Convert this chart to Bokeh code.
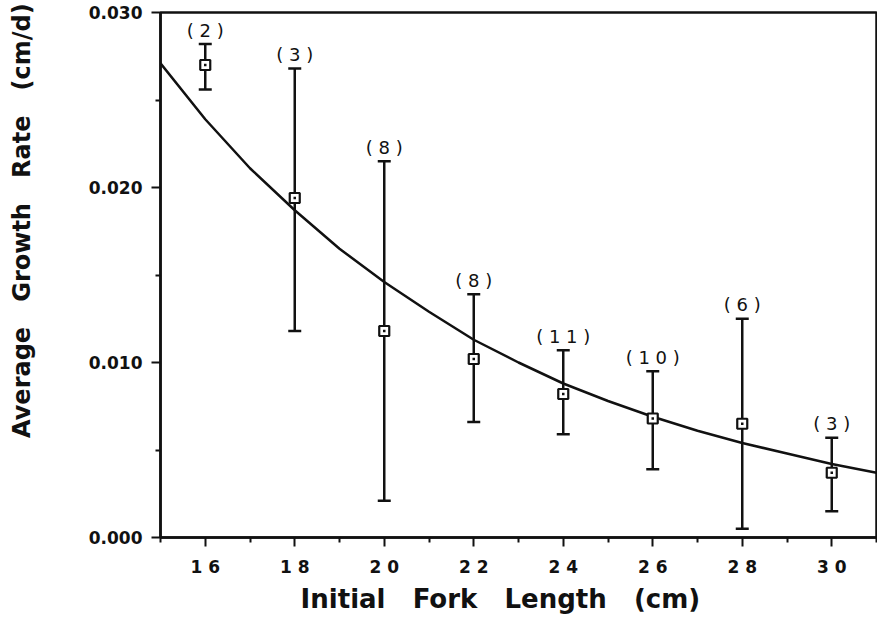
from bokeh.plotting import figure
from bokeh.models import ColumnDataSource, Whisker, TeeHead, LabelSet, FixedTicker, Range1d
from bokeh.core.properties import value
from bokeh.embed import file_html
from bokeh.resources import INLINE

# Data
fork_length = [16, 18, 20, 22, 24, 26, 28, 30]
growth_mean = [0.0270, 0.0194, 0.0118, 0.0102, 0.0082, 0.0068, 0.0065, 0.0037]
growth_upper = [0.0282, 0.0268, 0.0215, 0.0139, 0.0107, 0.0095, 0.0125, 0.0057]
growth_lower = [0.0256, 0.0118, 0.0021, 0.0066, 0.0059, 0.0039, 0.0005, 0.0015]
sample_n = [2, 3, 8, 8, 11, 10, 6, 3]

# fitted curve
curve_x = [15, 16, 17, 18, 19, 20, 21, 22, 23, 24, 25, 26, 27, 28, 29, 30, 31]
curve_y = [0.0271, 0.0239, 0.0211, 0.0187, 0.0165, 0.0146, 0.0129, 0.0113,
           0.0100, 0.0088, 0.0078, 0.0069, 0.0061, 0.0054, 0.0048, 0.0042, 0.0037]

x_ticks = [16, 18, 20, 22, 24, 26, 28, 30]
x_tick_labels = ["1 6", "1 8", "2 0", "2 2", "2 4", "2 6", "2 8", "3 0"]
x_minor = [15, 17, 19, 21, 23, 25, 27, 29, 31]
y_ticks = [0.0, 0.01, 0.02, 0.03]
y_tick_labels = ["0.000", "0.010", "0.020", "0.030"]
y_minor = [0.005, 0.015, 0.025]

NB = "\u00a0"
GAP = NB * 3
x_title = GAP.join(["Initial", "Fork", "Length", "(cm)"])
y_title = GAP.join(["Average", "Growth", "Rate", "(cm/d)"])

FONT = "DejaVu Sans"
INK = "#111111"

p = figure(frame_width=716, frame_height=525,
           x_range=Range1d(15, 31), y_range=Range1d(0, 0.030),
           output_backend="svg", toolbar_location=None,
           min_border_left=160, min_border_top=12, min_border_right=1,
           min_border_bottom=90, background_fill_color="white",
           border_fill_color="white")

p.grid.visible = False
p.outline_line_color = INK
p.outline_line_width = 2.5

# curve
p.line(curve_x, curve_y, line_color=INK, line_width=2.5)

src = ColumnDataSource(dict(
    x=fork_length, y=growth_mean, upper=growth_upper, lower=growth_lower,
    label=["( " + " ".join(str(n)) + " )" for n in sample_n],
))

w = Whisker(base="x", upper="upper", lower="lower", source=src,
            line_color=INK, line_width=2.5,
            upper_head=TeeHead(size=13, line_color=INK, line_width=2.5),
            lower_head=TeeHead(size=13, line_color=INK, line_width=2.5))
p.add_layout(w)

p.scatter("x", "y", source=src, marker="square", size=10,
          fill_color="white", line_color=INK, line_width=2.2)
p.scatter("x", "y", source=src, marker="square", size=2.5,
          fill_color=INK, line_color=None)

labels = LabelSet(x="x", y="upper", text="label", source=src,
                  y_offset=14, text_align="center", text_baseline="middle",
                  text_font=value(FONT), text_font_size="18px", text_color=INK)
p.add_layout(labels)

# axes
xax = p.xaxis[0]
xax.ticker = FixedTicker(ticks=x_ticks, minor_ticks=x_minor)
xax.major_label_overrides = {t: l for t, l in zip(x_ticks, x_tick_labels)}
yax = p.yaxis[0]
yax.ticker = FixedTicker(ticks=y_ticks, minor_ticks=y_minor)
yax.major_label_overrides = {t: l for t, l in zip(y_ticks, y_tick_labels)}

for ax in (xax, yax):
    ax.axis_line_color = INK
    ax.axis_line_width = 2.5
    ax.major_tick_line_color = INK
    ax.major_tick_line_width = 2
    ax.minor_tick_line_color = INK
    ax.minor_tick_line_width = 2
    ax.major_tick_in = 0
    ax.minor_tick_in = 0
    ax.major_tick_out = 9
    ax.minor_tick_out = 5
    ax.major_label_text_font = FONT
    ax.major_label_text_font_style = "bold"
    ax.major_label_text_font_size = "17px"
    ax.major_label_text_color = INK
    ax.axis_label_text_font = FONT
    ax.axis_label_text_font_style = "bold"
    ax.axis_label_text_color = INK

xax.major_label_standoff = 10
yax.major_label_standoff = 9

# the reference titles sit off the frame centre: pad with non-breaking spaces
xax.axis_label = x_title + NB * 4
xax.axis_label_text_font_size = "26px"
xax.axis_label_standoff = 4
yax.axis_label = NB * 13 + y_title
yax.axis_label_text_font_size = "24px"
yax.axis_label_standoff = 50

open("out.html", "w").write(file_html(p, INLINE))
